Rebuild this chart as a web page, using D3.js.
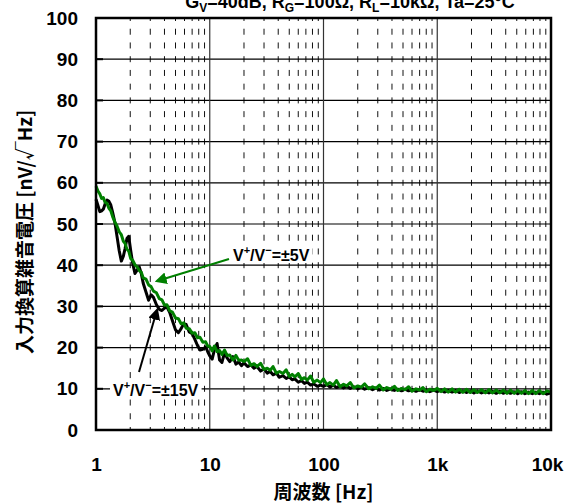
<!DOCTYPE html>
<html>
<head>
<meta charset="utf-8">
<script src="https://cdn.jsdelivr.net/npm/d3@7"></script>
<style>
body{margin:0;background:#fff;}
svg{display:block;}
text{font-family:"Liberation Sans",Arial,sans-serif;font-weight:bold;}
</style>
</head>
<body>
<div id="chart"></div>
<script>
// frequency points [Hz]
var freqs = [1, 1.04, 1.08, 1.12, 1.16, 1.2, 1.25, 1.3, 1.35, 1.4, 1.47, 1.53, 1.6, 1.67, 1.74, 1.8, 1.87, 1.94, 2.02, 2.1,
  2.2, 2.3, 2.4, 2.5, 2.6, 2.75, 2.9, 3.05, 3.2, 3.4, 3.6, 3.8, 4.0, 4.2, 4.45, 4.7, 5.0, 5.3, 5.6, 5.9,
  6.2, 6.6, 7.0, 7.4, 7.8, 8.2, 8.7, 9.2, 9.6,
  10, 10.5, 11, 11.6, 12.2, 12.8, 13.5, 14.2, 15, 16, 17, 18, 19, 20, 21.5, 23, 24.5, 26, 28, 30,
  32, 34, 36, 38.5, 41, 44, 47, 50, 53, 56, 60, 64, 68, 72, 77, 82, 88, 94,
  100, 107, 114, 122, 130, 140, 150, 160, 172, 185, 200, 215, 230, 250, 270, 290, 310, 335, 360, 390,
  420, 450, 485, 520, 560, 600, 650, 700, 750, 800, 860, 930,
  1000, 1080, 1160, 1250, 1350, 1450, 1560, 1680, 1800, 1950, 2100, 2250, 2450, 2650, 2850, 3050, 3300, 3550, 3800, 4100,
  4400, 4750, 5100, 5500, 5900, 6350, 6850, 7350, 7900, 8500, 9200, 10000];

// V+/V- = ±15V (black)
var noise15 = [56.0, 54.5, 53.0, 53.2, 53.6, 54.8, 55.8, 55.5, 54.6, 52.8, 50.2, 47.0, 43.5, 41.0, 42.2, 44.0, 46.5, 47.0, 43.5, 40.5,
  38.0, 38.8, 39.6, 38.0, 35.6, 33.5, 31.5, 32.8, 32.2, 30.4, 29.3, 29.0, 29.6, 29.9, 28.5, 26.5, 24.3, 23.6, 24.6, 25.8,
  25.6, 23.8, 23.4, 22.0, 20.5, 19.4, 19.6, 20.2, 19.0,
  18.0, 17.2, 19.5, 21.0, 17.0, 16.4, 18.8, 17.5, 16.6, 17.8, 16.0, 16.5, 15.6, 16.3, 15.4, 15.8, 15.0, 15.4, 14.3, 14.8,
  13.8, 14.2, 13.4, 13.8, 12.8, 13.2, 12.5, 12.9, 12.2, 12.4, 11.6, 12.0, 11.3, 11.6, 10.9, 11.2, 10.6, 10.9,
  10.6, 11.0, 10.4, 10.9, 10.3, 10.7, 10.2, 10.6, 10.1, 10.5, 10.0, 10.4, 9.9, 10.3, 9.8, 10.2, 9.7, 10.1, 9.6, 10.0,
  9.6, 9.9, 9.5, 9.9, 9.5, 9.8, 9.4, 9.8, 9.4, 9.7, 9.3, 9.7,
  9.3, 9.7, 9.2, 9.6, 9.2, 9.6, 9.1, 9.5, 9.1, 9.5, 9.0, 9.5, 9.0, 9.4, 9.0, 9.4, 8.9, 9.4, 8.9, 9.3,
  8.9, 9.3, 8.8, 9.3, 8.8, 9.2, 8.8, 9.2, 8.8, 9.2, 8.7, 9.0];

// V+/V- = ±5V (green)
var noise5 = [59.2, 58.0, 57.3, 56.2, 56.4, 55.3, 55.0, 53.8, 53.2, 51.8, 50.4, 49.5, 48.1, 47.4, 45.8, 45.3, 43.9, 43.4, 41.6, 41.2,
  40.1, 39.6, 38.7, 38.3, 36.9, 36.6, 35.2, 34.8, 33.7, 33.3, 31.9, 31.6, 30.3, 30.4, 28.9, 28.6, 27.2, 27.0, 25.8, 26.0,
  24.7, 24.6, 23.5, 23.6, 22.4, 22.5, 21.3, 21.4, 20.4,
  20.3, 19.2, 20.4, 19.0, 19.3, 18.3, 19.4, 18.1, 18.2, 17.0, 18.1, 16.9, 17.0, 16.6, 17.3, 15.7, 16.1, 15.4, 16.2, 14.7,
  15.0, 14.5, 15.4, 13.8, 14.2, 13.7, 14.6, 13.0, 13.5, 12.9, 13.7, 12.3, 12.7, 12.1, 13.1, 11.6, 12.1, 11.5,
  12.4, 11.0, 11.5, 10.9, 12.0, 10.5, 11.1, 10.7, 11.5, 10.2, 10.7, 10.4, 11.2, 10.0, 10.5, 10.1, 10.9, 9.7, 10.3, 9.9,
  10.6, 9.6, 10.1, 9.8, 10.5, 9.4, 10.0, 9.7, 10.3, 9.3, 9.9, 9.6,
  10.1, 9.3, 10.0, 9.2, 10.0, 9.2, 9.9, 9.1, 9.9, 9.1, 9.8, 9.1, 9.8, 9.0, 9.8, 9.0, 9.7, 9.0, 9.7, 8.9,
  9.7, 8.9, 9.6, 8.9, 9.6, 8.8, 9.6, 8.8, 9.6, 8.8, 9.5, 9.2];

var xTicks = [1, 10, 100, 1000, 10000];
var xTickLabels = ["1", "10", "100", "1k", "10k"];
var yTicks = [0, 10, 20, 30, 40, 50, 60, 70, 80, 90, 100];
var minorMult = [2, 3, 4, 5, 6, 7, 8, 9];

var width = 570, height = 503;
var margin = {top: 18, right: 19, bottom: 73, left: 96};

var svg = d3.select("#chart").append("svg")
  .attr("width", width)
  .attr("height", height);

var x = d3.scaleLog().domain([1, 10000]).range([margin.left, width - margin.right]);
var y = d3.scaleLinear().domain([0, 100]).range([height - margin.bottom, margin.top]);

var grid = svg.append("g");
var yStep = y(0) - y(10);

// minor (dashed) verticals
var minors = [];
xTicks.slice(0, -1).forEach(function(d){
  minorMult.forEach(function(m){ minors.push(d * m); });
});
grid.selectAll(".minor").data(minors).enter().append("line")
  .attr("class", "minor")
  .attr("x1", function(d){ return x(d); })
  .attr("x2", function(d){ return x(d); })
  .attr("y1", y(0)).attr("y2", y(100))
  .attr("stroke", "#111")
  .attr("stroke-width", 1)
  .attr("stroke-dasharray", "6," + (yStep / 3 - 6))
  .attr("stroke-dashoffset", 3);

// major grid
grid.selectAll(".hgrid").data(yTicks).enter().append("line")
  .attr("x1", x(1)).attr("x2", x(10000))
  .attr("y1", function(d){ return y(d); })
  .attr("y2", function(d){ return y(d); })
  .attr("stroke", "#000")
  .attr("stroke-width", 1.2);
grid.selectAll(".vgrid").data(xTicks).enter().append("line")
  .attr("x1", function(d){ return x(d); })
  .attr("x2", function(d){ return x(d); })
  .attr("y1", y(0)).attr("y2", y(100))
  .attr("stroke", "#333")
  .attr("stroke-width", 1.2);

// left ticks
grid.selectAll(".ytk").data(yTicks).enter().append("line")
  .attr("x1", x(1)).attr("x2", x(1) + 7)
  .attr("y1", function(d){ return y(d); })
  .attr("y2", function(d){ return y(d); })
  .attr("stroke", "#000")
  .attr("stroke-width", 2);

var pts15 = d3.zip(freqs, noise15);
var pts5 = d3.zip(freqs, noise5);
var line = d3.line()
  .x(function(d){ return x(d[0]); })
  .y(function(d){ return y(d[1]); });

svg.append("path").datum(pts15)
  .attr("d", line)
  .attr("fill", "none")
  .attr("stroke", "#000")
  .attr("stroke-width", 3)
  .attr("stroke-linejoin", "round");
svg.append("path").datum(pts5)
  .attr("d", line)
  .attr("fill", "none")
  .attr("stroke", "#008000")
  .attr("stroke-width", 3)
  .attr("stroke-linejoin", "round");

// frame
svg.append("rect")
  .attr("x", x(1)).attr("y", y(100))
  .attr("width", x(10000) - x(1))
  .attr("height", y(0) - y(100))
  .attr("fill", "none")
  .attr("stroke", "#000")
  .attr("stroke-width", 2.5);

// axes labels
var xAxis = d3.axisBottom(x).tickValues(xTicks)
  .tickFormat(function(d, i){ return xTickLabels[i]; })
  .tickSize(0).tickPadding(0);
var gx = svg.append("g").attr("transform", "translate(0," + (y(0) + 27) + ")").call(xAxis);
gx.select(".domain").remove();
gx.selectAll("text").attr("font-size", 19).attr("font-family", "Liberation Sans, Arial")
  .attr("font-weight", "bold").attr("fill", "#000")
  .attr("dx", function(d, i){ return i === xTicks.length - 1 ? -4 : 0; });

var yAxis = d3.axisLeft(y).tickValues(yTicks).tickSize(0).tickPadding(0);
var gy = svg.append("g").attr("transform", "translate(" + (x(1) - 18) + ",0)").call(yAxis);
gy.select(".domain").remove();
gy.selectAll("text").attr("font-size", 19).attr("font-family", "Liberation Sans, Arial")
  .attr("font-weight", "bold").attr("fill", "#000");

svg.append("text")
  .attr("x", (x(1) + x(10000)) / 2)
  .attr("y", 499)
  .attr("text-anchor", "middle")
  .attr("font-size", 19)
  .style("font-family", "'Noto Sans CJK JP','Liberation Sans',sans-serif")
  .text("周波数 [Hz]");

svg.append("text")
  .attr("transform", "translate(32," + ((y(0) + y(100)) / 2 + 8) + ") rotate(-90)")
  .attr("text-anchor", "middle")
  .attr("font-size", 19)
  .style("font-family", "'Noto Sans CJK JP','Liberation Sans',sans-serif")
  .text("入力換算雑音電圧 [nV/√Hz]");

// title (cut at top, as in the source)
var title = svg.append("text")
  .attr("x", 350).attr("y", 8)
  .attr("text-anchor", "middle")
  .attr("font-size", 18);
title.append("tspan").text("G");
title.append("tspan").attr("font-size", 12).attr("dy", 4).text("V");
title.append("tspan").attr("dy", -4).text("=40dB, R");
title.append("tspan").attr("font-size", 12).attr("dy", 4).text("G");
title.append("tspan").attr("dy", -4).text("=100Ω, R");
title.append("tspan").attr("font-size", 12).attr("dy", 4).text("L");
title.append("tspan").attr("dy", -4).text("=10kΩ, Ta=25°C");

// annotations
var defs = svg.append("defs");
function marker(id, color){
  defs.append("marker").attr("id", id)
    .attr("viewBox", "0 0 10 10").attr("refX", 8).attr("refY", 5)
    .attr("markerWidth", 6).attr("markerHeight", 6).attr("orient", "auto")
    .append("path").attr("d", "M0,0L10,5L0,10z").attr("fill", color);
}
marker("ahG", "#008000");
marker("ahK", "#000");

function label(tx, ty, sup1, sup2, val){
  var g = svg.append("g");
  var t = g.append("text").attr("x", tx).attr("y", ty).attr("font-size", 16);
  t.append("tspan").text("V");
  t.append("tspan").attr("font-size", 11).attr("dy", -7).text(sup1);
  t.append("tspan").attr("dy", 7).text("/V");
  t.append("tspan").attr("font-size", 11).attr("dy", -7).text(sup2);
  t.append("tspan").attr("dy", 7).text(val);
  var b = t.node().getBBox();
  g.insert("rect", "text").attr("x", b.x - 3).attr("y", b.y + 1)
    .attr("width", b.width + 6).attr("height", b.height - 2).attr("fill", "#fff");
}
label(233, 261, "+", "−", "=±5V");
label(113, 396, "+", "−", "=±15V");

svg.append("line")
  .attr("x1", 229).attr("y1", 259).attr("x2", 157).attr("y2", 281)
  .attr("stroke", "#008000").attr("stroke-width", 2)
  .attr("marker-end", "url(#ahG)");
svg.append("line")
  .attr("x1", 139).attr("y1", 372).attr("x2", 157).attr("y2", 310)
  .attr("stroke", "#000").attr("stroke-width", 2)
  .attr("marker-end", "url(#ahK)");
</script>
</body>
</html>
